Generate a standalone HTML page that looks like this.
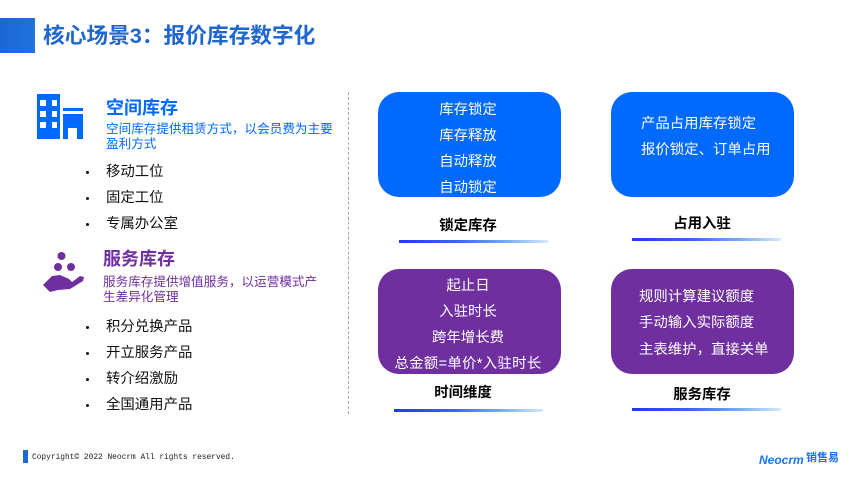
<!DOCTYPE html>
<html lang="zh"><head><meta charset="utf-8">
<style>
html,body{margin:0;padding:0;background:#fff}
#p{position:relative;width:857px;height:481px;overflow:hidden;background:#fff;font-family:"Liberation Sans","Noto Sans CJK SC",sans-serif}
.t{position:absolute;white-space:nowrap;line-height:1}
.c{text-align:center;transform:translateX(-50%)}
.box{position:absolute;width:183px;height:105px;border-radius:21px}
.b{background:#0069fe}.v{background:#6f2f9f}
.w{color:#fff;font-size:14.4px}
.k{color:#111;font-size:14.4px}
.lab{color:#000;font-size:14.4px;font-weight:bold}
.bar{position:absolute;height:3px;width:149px;background:linear-gradient(90deg,#2538e6 0%,#3f63f0 40%,#6fa8fb 70%,#d4e9fd 100%)}
.dot{position:absolute;width:3px;height:3px;border-radius:50%;background:#111}
.tc{font-family:"Noto Sans CJK TC",sans-serif}
</style></head><body><div id="p">
<div style="position:absolute;left:0;top:18px;width:35px;height:35px;background:linear-gradient(90deg,#1a66d6,#2272dc)"></div>
<div class="t" style="left:43px;top:24px;font-size:21.7px;font-weight:bold;color:#1f67cf">核心场景3<span class="tc">：</span>报价库存数字化</div>

<svg style="position:absolute;left:37px;top:94px" width="47" height="46" viewBox="0 0 47 46">
<path fill="#0069fe" fill-rule="evenodd" d="M0 0H23V45H0ZM3 6V12H9V6ZM15 6V12H20V6ZM3 17V23H9V17ZM15 17V23H20V17ZM3 28V34H9V28ZM15 28V34H20V28Z"/>
<rect x="26" y="14" width="20" height="3" fill="#0069fe"/>
<path fill="#0069fe" d="M26 20H46V45H40V34H31V45H26Z"/>
</svg>
<div class="t" style="left:106px;top:99px;font-size:18px;font-weight:bold;color:#0069fe">空间库存</div>
<div class="t" style="left:106px;top:122px;font-size:12.6px;color:#0069fe">空间库存提供租赁方式<span class="tc">，</span>以会员费为主要</div>
<div class="t" style="left:106px;top:138px;font-size:12.6px;color:#0069fe">盈利方式</div>

<div class="dot" style="left:86px;top:171px"></div><div class="t k" style="left:106px;top:165px">移动工位</div>
<div class="dot" style="left:86px;top:197px"></div><div class="t k" style="left:106px;top:191px">固定工位</div>
<div class="dot" style="left:86px;top:223px"></div><div class="t k" style="left:106px;top:217px">专属办公室</div>

<svg style="position:absolute;left:42px;top:250px" width="44" height="44" viewBox="0 0 44 44">
<circle cx="19.5" cy="6" r="4" fill="#6f2f9f"/><circle cx="16" cy="17" r="4" fill="#6f2f9f"/><circle cx="29" cy="17" r="4" fill="#6f2f9f"/>
<path fill="#6f2f9f" d="M1 35L10 26L18 25L27 29L30 32L38 26L42 27L41 31L28 39L16 40L8 42Z"/>
</svg>
<div class="t" style="left:103px;top:250px;font-size:18px;font-weight:bold;color:#6f2f9f">服务库存</div>
<div class="t" style="left:103px;top:275px;font-size:12.6px;color:#6f2f9f">服务库存提供增值服务<span class="tc">，</span>以运营模式产</div>
<div class="t" style="left:103px;top:291px;font-size:12.6px;color:#6f2f9f">生差异化管理</div>

<div class="dot" style="left:86px;top:326px"></div><div class="t k" style="left:106px;top:320px">积分兑换产品</div>
<div class="dot" style="left:86px;top:352px"></div><div class="t k" style="left:106px;top:346px">开立服务产品</div>
<div class="dot" style="left:86px;top:378px"></div><div class="t k" style="left:106px;top:372px">转介绍激励</div>
<div class="dot" style="left:86px;top:404px"></div><div class="t k" style="left:106px;top:398px">全国通用产品</div>

<div style="position:absolute;left:348px;top:92px;height:322px;border-left:1px dashed #a6a6a6"></div>

<div class="box b" style="left:378px;top:92px"></div>
<div class="t w c" style="left:468px;top:103px">库存锁定</div>
<div class="t w c" style="left:468px;top:129px">库存释放</div>
<div class="t w c" style="left:468px;top:155px">自动释放</div>
<div class="t w c" style="left:468px;top:181px">自动锁定</div>
<div class="t lab c" style="left:468px;top:219px">锁定库存</div>
<div class="bar" style="left:399px;top:240px"></div>

<div class="box b" style="left:611px;top:92px"></div>
<div class="t w" style="left:641px;top:117px">产品占用库存锁定</div>
<div class="t w" style="left:641px;top:143px">报价锁定、订单占用</div>
<div class="t lab c" style="left:702px;top:217px">占用入驻</div>
<div class="bar" style="left:632px;top:238px"></div>

<div class="box v" style="left:378px;top:269px"></div>
<div class="t w c" style="left:468px;top:279px">起止日</div>
<div class="t w c" style="left:468px;top:305px">入驻时长</div>
<div class="t w c" style="left:468px;top:331px">跨年增长费</div>
<div class="t w c" style="left:468px;top:357px;letter-spacing:.33px">总金额=单价*入驻时长</div>
<div class="t lab c" style="left:463px;top:386px">时间维度</div>
<div class="bar" style="left:394px;top:409px"></div>

<div class="box v" style="left:611px;top:269px"></div>
<div class="t w" style="left:639px;top:290px">规则计算建议额度</div>
<div class="t w" style="left:639px;top:316px">手动输入实际额度</div>
<div class="t w" style="left:639px;top:342px">主表维护<span class="tc">，</span>直接关单</div>
<div class="t lab c" style="left:702px;top:388px">服务库存</div>
<div class="bar" style="left:632px;top:408px"></div>

<div style="position:absolute;left:23px;top:450px;width:5px;height:13px;background:#1f69d4"></div>
<div class="t" style="left:32px;top:454px;font-size:7.87px;font-family:'Liberation Mono',monospace;color:#222">Copyright© 2022 Neocrm All rights reserved.</div>

<div class="t" style="left:759px;top:454px;font-size:12px;font-weight:bold;font-style:italic;color:#1a73f0">Neocrm</div>
<div class="t" style="left:806px;top:453px;font-size:11px;font-weight:bold;color:#1a73f0">销售易</div>
</div></body></html>
